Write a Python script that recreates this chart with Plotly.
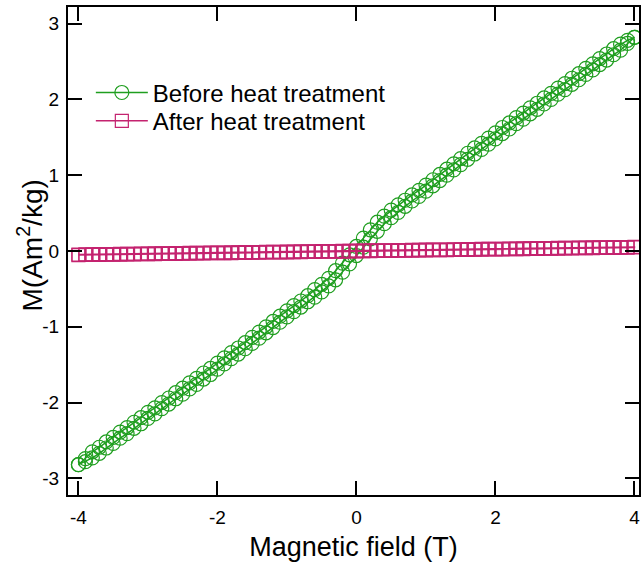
import plotly.graph_objects as go

# Field sweep (T): ascending branch, then descending branch
field_up = [-4.0, -3.9, -3.8, -3.7, -3.6, -3.5, -3.4, -3.3, -3.2, -3.1,
            -3.0, -2.9, -2.8, -2.7, -2.6, -2.5, -2.4, -2.3, -2.2, -2.1,
            -2.0, -1.9, -1.8, -1.7, -1.6, -1.5, -1.4, -1.3, -1.2, -1.1,
            -1.0, -0.9, -0.8, -0.7, -0.6, -0.5, -0.4, -0.3, -0.2, -0.1,
            0.0, 0.1, 0.2, 0.3, 0.4, 0.5, 0.6, 0.7, 0.8, 0.9,
            1.0, 1.1, 1.2, 1.3, 1.4, 1.5, 1.6, 1.7, 1.8, 1.9,
            2.0, 2.1, 2.2, 2.3, 2.4, 2.5, 2.6, 2.7, 2.8, 2.9,
            3.0, 3.1, 3.2, 3.3, 3.4, 3.5, 3.6, 3.7, 3.8, 3.9,
            4.0]
field_down = [4.0, 3.9, 3.8, 3.7, 3.6, 3.5, 3.4, 3.3, 3.2, 3.1,
              3.0, 2.9, 2.8, 2.7, 2.6, 2.5, 2.4, 2.3, 2.2, 2.1,
              2.0, 1.9, 1.8, 1.7, 1.6, 1.5, 1.4, 1.3, 1.2, 1.1,
              1.0, 0.9, 0.8, 0.7, 0.6, 0.5, 0.4, 0.3, 0.2, 0.1,
              0.0, -0.1, -0.2, -0.3, -0.4, -0.5, -0.6, -0.7, -0.8, -0.9,
              -1.0, -1.1, -1.2, -1.3, -1.4, -1.5, -1.6, -1.7, -1.8, -1.9,
              -2.0, -2.1, -2.2, -2.3, -2.4, -2.5, -2.6, -2.7, -2.8, -2.9,
              -3.0, -3.1, -3.2, -3.3, -3.4, -3.5, -3.6, -3.7, -3.8, -3.9,
              -4.0]

# Magnetization (Am^2/kg) before heat treatment
m_before_up = [-2.82, -2.78, -2.73, -2.67, -2.60, -2.54, -2.47, -2.41, -2.34, -2.28,
               -2.21, -2.15, -2.08, -2.02, -1.95, -1.89, -1.82, -1.76, -1.69, -1.63,
               -1.56, -1.49, -1.42, -1.36, -1.29, -1.22, -1.15, -1.08, -1.01, -0.94,
               -0.87, -0.80, -0.74, -0.67, -0.61, -0.54, -0.46, -0.38, -0.28, -0.17,
               -0.06, 0.05, 0.16, 0.26, 0.36, 0.44, 0.51, 0.59, 0.66, 0.72,
               0.79, 0.86, 0.93, 1.00, 1.07, 1.14, 1.21, 1.28, 1.34, 1.41,
               1.48, 1.55, 1.61, 1.68, 1.74, 1.81, 1.87, 1.94, 2.00, 2.07,
               2.13, 2.20, 2.26, 2.33, 2.39, 2.46, 2.52, 2.59, 2.65, 2.74,
               2.82]
m_before_down = [2.82, 2.78, 2.73, 2.67, 2.60, 2.54, 2.47, 2.41, 2.34, 2.28,
                 2.21, 2.15, 2.08, 2.02, 1.95, 1.89, 1.82, 1.76, 1.69, 1.63,
                 1.56, 1.49, 1.42, 1.36, 1.29, 1.22, 1.15, 1.08, 1.01, 0.94,
                 0.87, 0.80, 0.74, 0.67, 0.61, 0.54, 0.46, 0.38, 0.28, 0.17,
                 0.06, -0.05, -0.16, -0.26, -0.36, -0.44, -0.51, -0.59, -0.66, -0.72,
                 -0.79, -0.86, -0.93, -1.00, -1.07, -1.14, -1.21, -1.28, -1.34, -1.41,
                 -1.48, -1.55, -1.61, -1.68, -1.74, -1.81, -1.87, -1.94, -2.00, -2.07,
                 -2.13, -2.20, -2.26, -2.33, -2.39, -2.46, -2.52, -2.59, -2.65, -2.74,
                 -2.82]

# Magnetization (Am^2/kg) after heat treatment
m_after_up = [-0.054, -0.053, -0.052, -0.050, -0.049, -0.048, -0.047, -0.045, -0.044, -0.043,
              -0.042, -0.040, -0.039, -0.038, -0.037, -0.035, -0.034, -0.033, -0.032, -0.030,
              -0.029, -0.028, -0.027, -0.025, -0.024, -0.023, -0.022, -0.020, -0.019, -0.018,
              -0.017, -0.015, -0.014, -0.013, -0.012, -0.010, -0.009, -0.008, -0.007, -0.005,
              -0.004, -0.003, -0.002, 0.000, 0.001, 0.002, 0.003, 0.005, 0.006, 0.007,
              0.008, 0.010, 0.011, 0.012, 0.013, 0.015, 0.016, 0.017, 0.018, 0.020,
              0.021, 0.022, 0.023, 0.025, 0.026, 0.027, 0.028, 0.030, 0.031, 0.032,
              0.033, 0.035, 0.036, 0.037, 0.038, 0.040, 0.041, 0.042, 0.043, 0.045,
              0.046]
m_after_down = [0.054, 0.053, 0.052, 0.050, 0.049, 0.048, 0.047, 0.045, 0.044, 0.043,
                0.042, 0.040, 0.039, 0.038, 0.037, 0.035, 0.034, 0.033, 0.032, 0.030,
                0.029, 0.028, 0.027, 0.025, 0.024, 0.023, 0.022, 0.020, 0.019, 0.018,
                0.017, 0.015, 0.014, 0.013, 0.012, 0.010, 0.009, 0.008, 0.007, 0.005,
                0.004, 0.003, 0.002, 0.000, -0.001, -0.002, -0.003, -0.005, -0.006, -0.007,
                -0.008, -0.010, -0.011, -0.012, -0.013, -0.015, -0.016, -0.017, -0.018, -0.020,
                -0.021, -0.022, -0.023, -0.025, -0.026, -0.027, -0.028, -0.030, -0.031, -0.032,
                -0.033, -0.035, -0.036, -0.037, -0.038, -0.040, -0.041, -0.042, -0.043, -0.045,
                -0.046]

x_ticks = [-4, -2, 0, 2, 4]
x_tick_labels = ["-4", "-2", "0", "2", "4"]
y_ticks = [-3, -2, -1, 0, 1, 2, 3]
y_tick_labels = ["-3", "-2", "-1", "0", "1", "2", "3"]

GREEN = "#1f9e1f"
MAGENTA = "#c4236f"
FONT = "Liberation Sans, Arial, sans-serif"

fig = go.Figure()
fig.add_trace(go.Scatter(
    x=field_up + field_down, y=m_before_up + m_before_down,
    mode="lines+markers", name="Before heat treatment", legend="legend",
    line=dict(color=GREEN, width=1.5),
    marker=dict(symbol="circle-open", size=14, color=GREEN, line=dict(width=1.2, color=GREEN)),
))
fig.add_trace(go.Scatter(
    x=field_up + field_down, y=m_after_up + m_after_down,
    mode="lines+markers", name="After heat treatment", legend="legend2",
    line=dict(color=MAGENTA, width=1.5),
    marker=dict(symbol="square-open", size=13, color=MAGENTA, line=dict(width=1.2, color=MAGENTA)),
))

axis_common = dict(
    showline=True, linewidth=2, linecolor="black", mirror="ticks",
    ticks="inside", ticklen=14, tickwidth=2, tickcolor="black",
    showgrid=False, zeroline=False,
    tickfont=dict(family=FONT, size=19, color="black"),
)

legend_style = dict(xanchor="left", yanchor="middle", bgcolor="rgba(0,0,0,0)",
                    font=dict(family=FONT, size=24), itemwidth=52)

fig.update_layout(
    width=641, height=569,
    margin=dict(l=68, r=0, t=7, b=74),
    paper_bgcolor="white", plot_bgcolor="white",
    font=dict(family=FONT, color="black"),
    xaxis=dict(range=[-4.15, 4.065], tickvals=x_ticks, ticktext=x_tick_labels,
               ticklabelstandoff=4,
               title=dict(text="Magnetic field (T)", font=dict(size=27), standoff=10),
               **axis_common),
    yaxis=dict(range=[-3.22, 3.22], tickvals=y_ticks, ticktext=y_tick_labels,
               ticklabelstandoff=3, **axis_common),
    legend=dict(x=0.04, y=0.824, **legend_style),
    legend2=dict(x=0.04, y=0.766, **legend_style),
    showlegend=True,
    annotations=[dict(
        text="M(Am<sup>2</sup>/kg)", textangle=-90, showarrow=False,
        xref="paper", yref="paper", x=-0.066, y=0.512,
        xanchor="center", yanchor="middle",
        font=dict(family=FONT, size=28, color="black"),
    )],
)

fig.write_html("out.html")
